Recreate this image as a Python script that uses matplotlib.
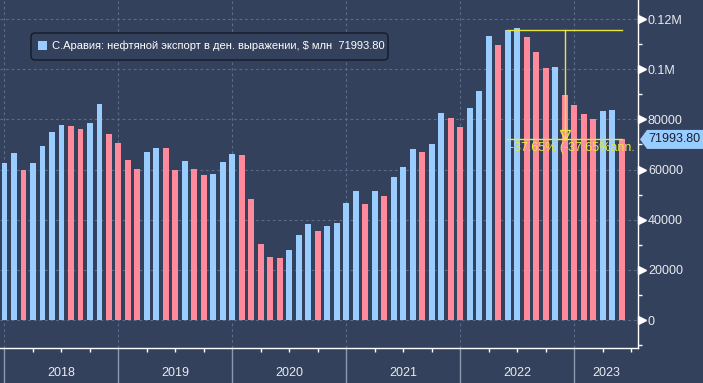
import numpy as np
import matplotlib
matplotlib.use("Agg")
import matplotlib.pyplot as plt
import matplotlib.transforms as mtrans
from matplotlib.patches import FancyBboxPatch, Rectangle, Polygon
from matplotlib.lines import Line2D

plt.rcParams['font.family'] = ['Liberation Sans', 'DejaVu Sans']

# ---- data (monthly, Jan 2018 .. Jun 2023) ----
values = [62500, 66500, 59800, 62500, 69300, 74800, 77600, 77200, 76000, 78400, 86000, 74000,
          70400, 63700, 60200, 66900, 68600, 68400, 59800, 63300, 60100, 57700, 58100, 62900,
          66100, 65700, 48200, 30200, 25100, 24700, 27900, 33800, 38200, 35400, 37400, 38600,
          46600, 51300, 46200, 51400, 49400, 56900, 60900, 68100, 66900, 70000, 82400, 80700,
          77100, 84700, 91100, 113400, 109800, 115470, 116600, 113000, 107000, 100600, 101000, 89900,
          85900, 82300, 80200, 83500, 83900, 71993.80]
years = ["2018", "2019", "2020", "2021", "2022", "2023"]
ytick_vals = [0, 20000, 40000, 60000, 80000, 100000, 120000]
ytick_labels = ["0", "20000", "40000", "60000", "80000", "0.1M", "0.12M"]
legend_label = "С.Аравия: нефтяной экспорт в ден. выражении, $ млн"
annot_start = 53  # index of bar where the change measurement starts

# ---- styles ----
BG = '#34415c'
BLUE = '#99ccff'
PINK = '#ff8a9b'
GRID = '#5c6b8a'
YEL = '#e8e83c'
TXT = '#e8ebf0'
W, H = 703, 383

vals = np.array(values)
n = len(vals)
x = np.arange(n)
up = np.concatenate([[True], np.diff(vals) >= 0])
colors = [BLUE if u else PINK for u in up]

fig = plt.figure(figsize=(W / 100, H / 100), dpi=100)
fig.set_facecolor(BG)
ax = fig.add_axes([0, 35 / H, 638 / W, 348 / H])
ax.set_facecolor(BG)

ax.set_xlim(-0.47, 66.7)
ax.set_ylim(-11160, 127575)

# grid
for v in ytick_vals:
    ax.axhline(v, color=GRID, lw=0.8, ls=(0, (2.5, 2.5)), zorder=0)
year_pos = [12 * i for i in range(len(years))]
for p in year_pos:
    ax.axvline(p, color=GRID, lw=0.8, ls=(0, (2.5, 2.5)), zorder=0)

ax.bar(x, vals, width=0.62, color=colors, zorder=2, linewidth=0)

# spines
for s in ['left', 'top']:
    ax.spines[s].set_visible(False)
for s in ['right', 'bottom']:
    ax.spines[s].set_color('white')
    ax.spines[s].set_linewidth(1)

# y axis
ax.yaxis.tick_right()
ax.set_yticks(ytick_vals)
ax.set_yticklabels(ytick_labels)
ax.set_yticks(np.arange(-10000, 125000, 20000), minor=True)
ax.tick_params(axis='y', which='major', length=0, pad=7.2, labelsize=9, labelcolor=TXT)
ax.tick_params(axis='y', which='minor', length=3, width=1, color='white', direction='out')
tri_tr = mtrans.offset_copy(ax.get_yaxis_transform(), fig=fig, x=3.2, y=0, units='points')
ax.plot([1] * len(ytick_vals), ytick_vals, ls='none', marker='>', ms=5.5, color='white',
        transform=tri_tr, clip_on=False, zorder=5)

# x axis
ax.set_xticks([])
qpos = [q for q in range(3, 67, 3) if q % 12 != 0]
ax.set_xticks(qpos, minor=True)
ax.tick_params(axis='x', which='minor', length=3, width=1, color='white', direction='out',
               labelbottom=False)
xtr = ax.get_xaxis_transform()
for i, p in enumerate(year_pos):
    ax.add_line(Line2D([p, p], [0, -40 / 348], transform=xtr, color='#8f99ae', lw=1,
                       clip_on=False))
    nxt = year_pos[i + 1] if i + 1 < len(year_pos) else 66.7
    ax.text((p + nxt) / 2, -25 / 348, years[i], transform=xtr, ha='center', va='center',
            fontsize=9, color=TXT)

# annotation of change
last = vals[-1]
start_v = vals[annot_start]
end_i = n - 1
mid = (annot_start + end_i) / 2
x0 = annot_start - 0.1
ax.plot([x0, end_i], [start_v, start_v], color=YEL, lw=1, zorder=4)
ax.plot([x0, end_i], [last, last], color=YEL, lw=1, zorder=4)
ax.plot([mid, mid], [start_v, last], color=YEL, lw=1, zorder=4)
ms = 7
arr_tr = mtrans.offset_copy(ax.transData, fig=fig, x=0, y=ms / 2, units='points')
ax.plot([mid], [last], marker='v', ms=ms, mfc='none', mec=YEL, mew=1, transform=arr_tr,
        zorder=5)
pct = (last / start_v - 1) * 100
txt_tr = mtrans.offset_copy(ax.transData, fig=fig, x=0, y=-2, units='points')
ax.text(x0 + 0.3, last, f"{pct:.2f}% ({pct:.2f}%ann.", transform=txt_tr, color=YEL,
        fontsize=9, ha='left', va='top', clip_on=True, zorder=5)

# last value label
fig.canvas.draw()
yd = ax.transData.transform((0, last))[1]
hh = 9.5
poly = [(640, yd), (647, yd + hh), (W, yd + hh), (W, yd - hh), (647, yd - hh)]
poly = [(a / W, b / H) for a, b in poly]
fig.patches.append(Polygon(poly, closed=True, transform=fig.transFigure, facecolor=BLUE,
                           edgecolor='none', zorder=10))
fig.text(674 / W, yd / H, f"{last:.2f}", ha='center', va='center', fontsize=9,
         color='#1a2030', zorder=11)

# legend
fig.patches.append(FancyBboxPatch((31 / W, 1 - 60 / H), 357 / W, 27 / H,
                                  boxstyle="round,pad=0,rounding_size=0.006",
                                  mutation_aspect=W / H, transform=fig.transFigure,
                                  facecolor=BG, edgecolor='#141a28', lw=1, zorder=10))
fig.patches.append(Rectangle((38 / W, 1 - 50 / H), 9 / W, 9 / H, transform=fig.transFigure,
                             facecolor=BLUE, edgecolor='none', zorder=11))
fig.text(52 / W, 1 - 46 / H, f"{legend_label}  {last:.2f}", ha='left', va='center',
         fontsize=8, color='white', zorder=12)

fig.savefig("out.png", dpi=100, facecolor=BG)
